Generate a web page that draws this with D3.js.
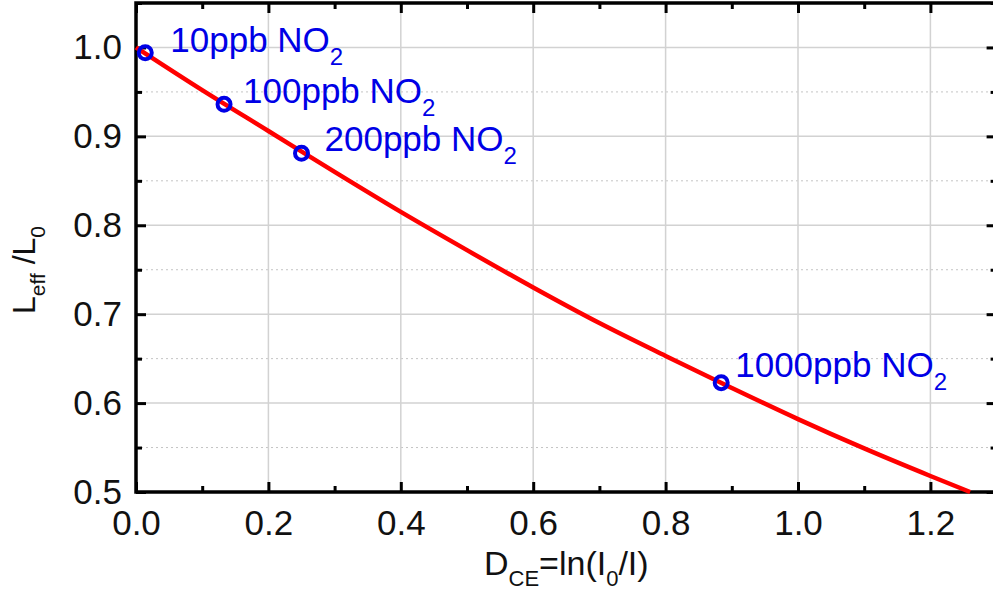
<!DOCTYPE html>
<html>
<head>
<meta charset="utf-8">
<script src="https://cdn.jsdelivr.net/npm/d3@7"></script>
<style>
  body { margin: 0; background: #fff; }
  svg { display: block; font-family: Arial, "Liberation Sans", sans-serif; }
</style>
</head>
<body>
<svg width="993" height="596"></svg>
<script>
// measured points
var pointX = [0.014, 0.133, 0.250, 0.884];
var pointY = [0.994, 0.936, 0.881, 0.623];
var pointLabels = ["10ppb NO", "100ppb NO", "200ppb NO", "1000ppb NO"];

// red fit curve
var curveX = [0, 0.1, 0.2, 0.3, 0.4, 0.5, 0.6, 0.7, 0.8, 0.9, 1.0, 1.1, 1.2, 1.26];
var curveY = [1.0, 0.952, 0.906, 0.860, 0.815, 0.772, 0.730, 0.690, 0.653, 0.617, 0.582, 0.549, 0.518, 0.500];

var xTicks = [0, 0.2, 0.4, 0.6, 0.8, 1.0, 1.2];
var xMinor = [0.1, 0.3, 0.5, 0.7, 0.9, 1.1];
var yTicks = [0.5, 0.6, 0.7, 0.8, 0.9, 1.0];
var yMinor = [0.55, 0.65, 0.75, 0.85, 0.95, 1.05];

// label offsets from their point (px)
var labelDx = [25, 19, 23, 14];
var labelDy = [-1, -1, -2, -6];

var plotLeft = 136, plotRight = 996.6, plotTop = 3, plotBottom = 492;

var svg = d3.select("svg");

var scaleX = d3.scaleLinear().domain([0, 1.3]).range([plotLeft, plotRight]);
var scaleY = d3.scaleLinear().domain([0.5, 1.05]).range([plotBottom, plotTop]);

// grid
svg.append("g")
   .selectAll("line")
   .data(yMinor)
   .enter()
   .append("line")
   .attr("x1", plotLeft).attr("x2", plotRight)
   .attr("y1", function(d) { return scaleY(d) })
   .attr("y2", function(d) { return scaleY(d) })
   .attr("stroke", "#c4c4c4")
   .attr("stroke-width", 1)
   .attr("stroke-dasharray", "2,3");

svg.append("g")
   .selectAll("line")
   .data(yTicks)
   .enter()
   .append("line")
   .attr("x1", plotLeft).attr("x2", plotRight)
   .attr("y1", function(d) { return scaleY(d) })
   .attr("y2", function(d) { return scaleY(d) })
   .attr("stroke", "#d2d2d2")
   .attr("stroke-width", 1.5);

svg.append("g")
   .selectAll("line")
   .data(xTicks)
   .enter()
   .append("line")
   .attr("y1", plotTop).attr("y2", plotBottom)
   .attr("x1", function(d) { return scaleX(d) })
   .attr("x2", function(d) { return scaleX(d) })
   .attr("stroke", "#d2d2d2")
   .attr("stroke-width", 1.5);

// axes: inner ticks on all four sides
function axisStyle(g) {
  g.select(".domain").remove();
  g.selectAll("line").attr("stroke", "#000").attr("stroke-width", 3);
  g.selectAll("text").attr("font-size", 35).attr("fill", "#111");
}

svg.append("g")
   .attr("transform", "translate(0," + plotBottom + ")")
   .call(d3.axisBottom(scaleX).tickValues(xTicks).tickSize(-10).tickPadding(18)
           .tickFormat(d3.format(".1f")))
   .call(axisStyle);

svg.append("g")
   .attr("transform", "translate(0," + plotBottom + ")")
   .call(d3.axisBottom(scaleX).tickValues(xMinor).tickSize(-6).tickFormat(""))
   .call(axisStyle);

svg.append("g")
   .attr("transform", "translate(0," + plotTop + ")")
   .call(d3.axisTop(scaleX).tickValues(xTicks).tickSize(-10).tickFormat(""))
   .call(axisStyle);

svg.append("g")
   .attr("transform", "translate(0," + plotTop + ")")
   .call(d3.axisTop(scaleX).tickValues(xMinor).tickSize(-6).tickFormat(""))
   .call(axisStyle);

svg.append("g")
   .attr("transform", "translate(" + plotLeft + ",0)")
   .call(d3.axisLeft(scaleY).tickValues(yTicks).tickSize(-10).tickPadding(14)
           .tickFormat(d3.format(".1f")))
   .call(axisStyle);

svg.append("g")
   .attr("transform", "translate(" + plotLeft + ",0)")
   .call(d3.axisLeft(scaleY).tickValues(yMinor).tickSize(-6).tickFormat(""))
   .call(axisStyle);

svg.append("g")
   .attr("transform", "translate(" + plotRight + ",0)")
   .call(d3.axisRight(scaleY).tickValues(yTicks).tickSize(-10).tickFormat(""))
   .call(axisStyle);

svg.append("g")
   .attr("transform", "translate(" + plotRight + ",0)")
   .call(d3.axisRight(scaleY).tickValues(yMinor).tickSize(-6).tickFormat(""))
   .call(axisStyle);

// frame
svg.append("rect")
   .attr("x", plotLeft).attr("y", plotTop)
   .attr("width", plotRight - plotLeft).attr("height", plotBottom - plotTop)
   .attr("fill", "none")
   .attr("stroke", "#000")
   .attr("stroke-width", 3.5);

// curve
var curve = curveX.map(function(d, i) { return [d, curveY[i]] });
svg.append("path")
   .datum(curve)
   .attr("fill", "none")
   .attr("stroke", "#ff0000")
   .attr("stroke-width", 4.5)
   .attr("d", d3.line()
      .x(function(d) { return scaleX(d[0]) })
      .y(function(d) { return scaleY(d[1]) })
      .curve(d3.curveMonotoneX));

// points
svg.append("g")
   .selectAll("circle")
   .data(pointX)
   .enter()
   .append("circle")
   .attr("cx", function(d) { return scaleX(d) })
   .attr("cy", function(d, i) { return scaleY(pointY[i]) })
   .attr("r", 6.5)
   .attr("fill", "none")
   .attr("stroke", "#0000e6")
   .attr("stroke-width", 4);

// labels
var labels = svg.append("g")
   .selectAll("text")
   .data(pointLabels)
   .enter()
   .append("text")
   .attr("x", function(d, i) { return scaleX(pointX[i]) + labelDx[i] })
   .attr("y", function(d, i) { return scaleY(pointY[i]) + labelDy[i] })
   .attr("font-size", 35)
   .attr("fill", "#0000e6");
labels.append("tspan").text(function(d) { return d });
labels.append("tspan").attr("dy", 13).attr("font-size", 24).text("2");

// x title
var xt = svg.append("text")
   .attr("x", (plotLeft + plotRight) / 2)
   .attr("y", 575)
   .attr("text-anchor", "middle")
   .attr("font-size", 34)
   .attr("fill", "#111");
xt.append("tspan").text("D");
xt.append("tspan").attr("dy", 11).attr("font-size", 22).text("CE");
xt.append("tspan").attr("dy", -11).text("=ln(I");
xt.append("tspan").attr("dy", 11).attr("font-size", 22).text("0");
xt.append("tspan").attr("dy", -11).text("/I)");

// y title
var yt = svg.append("text")
   .attr("transform", "translate(35,270) rotate(-90)")
   .attr("text-anchor", "middle")
   .attr("font-size", 32)
   .attr("fill", "#111");
yt.append("tspan").text("L");
yt.append("tspan").attr("dy", 10).attr("font-size", 21).text("eff");
yt.append("tspan").attr("dy", -10).text(" /L");
yt.append("tspan").attr("dy", 10).attr("font-size", 21).text("0");
</script>
</body>
</html>
